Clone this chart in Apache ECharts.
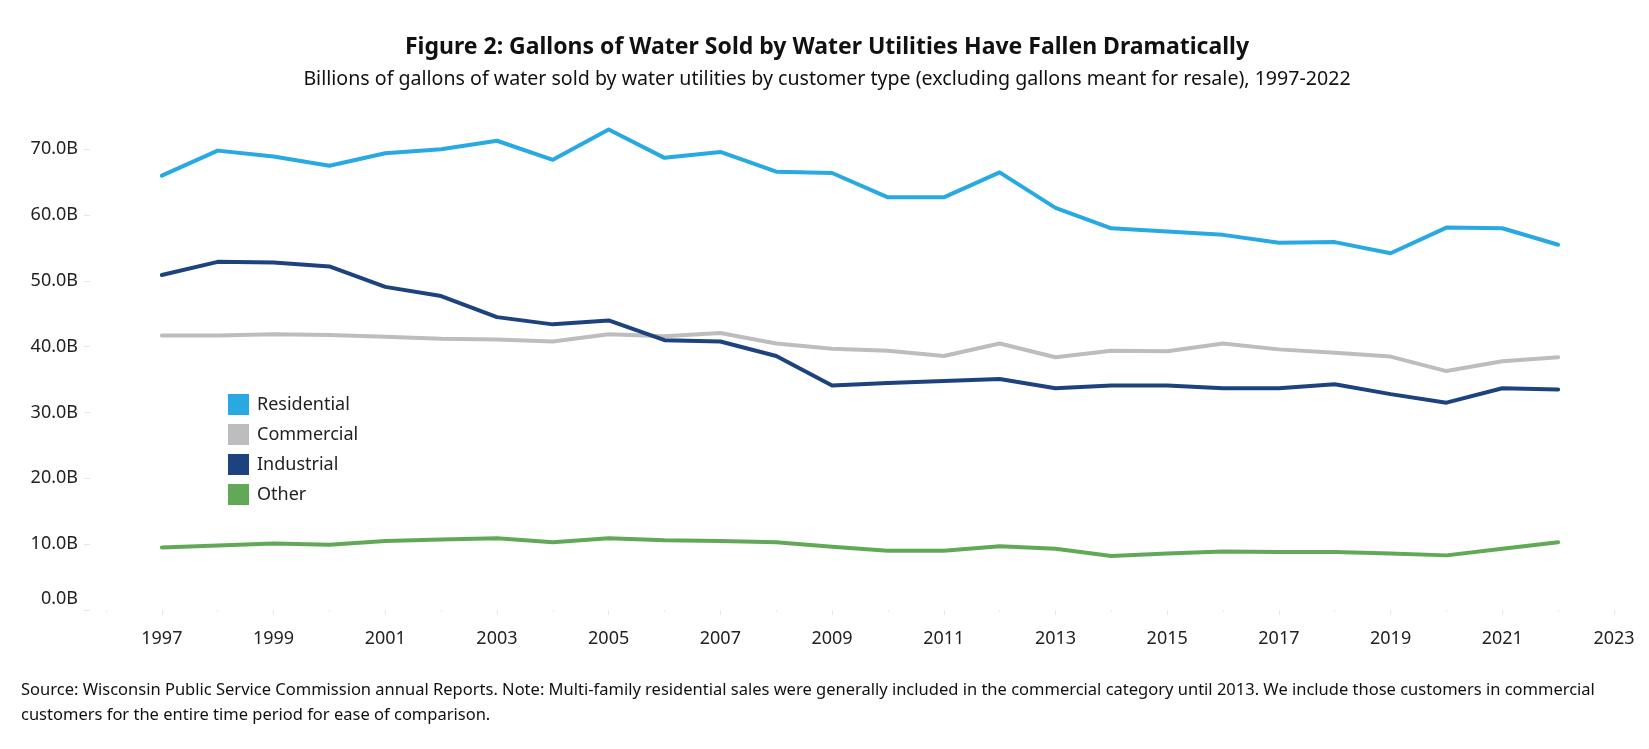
<!DOCTYPE html>
<html>
<head>
<meta charset="utf-8">
<script src="https://cdn.jsdelivr.net/npm/echarts@6/dist/echarts.min.js"></script>
<style>
html,body{margin:0;padding:0;background:#fff;}
#chart{width:1649px;height:749px;}
</style>
</head>
<body>
<div id="chart"></div>
<script>
const years = [1997,1998,1999,2000,2001,2002,2003,2004,2005,2006,2007,2008,2009,2010,2011,2012,2013,2014,2015,2016,2017,2018,2019,2020,2021,2022];
const axisYears = ['1996','1997','1998','1999','2000','2001','2002','2003','2004','2005','2006','2007','2008','2009','2010','2011','2012','2013','2014','2015','2016','2017','2018','2019','2020','2021','2022','2023'];
const residential = [66.0,69.8,68.9,67.5,69.4,70.0,71.3,68.4,73.0,68.7,69.6,66.6,66.4,62.7,62.7,66.5,61.1,58.0,57.5,57.0,55.8,55.9,54.2,58.1,58.0,55.5];
const commercial  = [41.7,41.7,41.9,41.8,41.5,41.2,41.1,40.8,41.9,41.6,42.1,40.5,39.7,39.4,38.6,40.5,38.4,39.4,39.3,40.5,39.6,39.1,38.5,36.3,37.8,38.4];
const industrial  = [50.9,52.9,52.8,52.2,49.1,47.7,44.5,43.4,44.0,41.0,40.8,38.6,34.1,34.5,34.8,35.1,33.7,34.1,34.1,33.7,33.7,34.3,32.8,31.5,33.7,33.5];
const other       = [9.5,9.8,10.1,9.9,10.5,10.7,10.9,10.3,10.9,10.6,10.5,10.3,9.6,9.0,9.0,9.7,9.3,8.2,8.6,8.9,8.8,8.8,8.6,8.3,9.3,10.3];
const yTicks = [0,10,20,30,40,50,60,70];

const titleText = 'Figure 2: Gallons of Water Sold by Water Utilities Have Fallen Dramatically';
const subtitleText = 'Billions of gallons of water sold by water utilities by customer type (excluding gallons meant for resale), 1997-2022';
const sourceText = 'Source: Wisconsin Public Service Commission annual Reports. Note: Multi-family residential sales were generally included in the commercial category until 2013. We include those customers in commercial\ncustomers for the entire time period for ease of comparison.';

const FONT = '"Noto Sans", "Open Sans", sans-serif';
const colors = {Residential:'#29a9e1', Commercial:'#bdbdbf', Industrial:'#1d437e', Other:'#61a957'};

function pairs(arr){ return years.map((y,i)=>[String(y), arr[i]]); }
function mkSeries(name, arr){
  return {
    name, type:'line', data: pairs(arr), showSymbol:false, symbol:'none', clip:false,
    lineStyle:{width:4, color:colors[name], cap:'round', join:'round'},
    itemStyle:{color:colors[name]}, emphasis:{disabled:true}, z: name==='Residential'?5:(name==='Industrial'?4:3)
  };
}

const chart = echarts.init(document.getElementById('chart'), null, {renderer:'canvas'});
chart.setOption({
  animation:false,
  backgroundColor:'#fff',
  textStyle:{fontFamily:FONT},
  grid:{left:106, right:35, top:149.3, bottom:139, containLabel:false},
  legend:{
    orient:'vertical', left:228, top:394, itemWidth:21, itemHeight:21, itemGap:9, padding:0,
    icon:'rect', data:['Residential','Commercial','Industrial','Other'],
    textStyle:{fontSize:18, color:'#222', fontFamily:FONT, padding:[0,0,0,3]},
    selectedMode:false
  },
  xAxis:[{
    type:'category', data:axisYears, boundaryGap:false,
    axisLine:{show:false},
    axisTick:{show:true, length:5, lineStyle:{color:'#e3e3e3', width:1}, interval:(i,v)=>(+v)%2===1},
    axisLabel:{fontSize:18, color:'#222', margin:20, fontFamily:FONT, interval:(i,v)=>(+v)%2===1},
    splitLine:{show:false}
  },{
    type:'category', data:axisYears, boundaryGap:false, position:'bottom',
    axisLine:{show:false},
    axisTick:{show:true, length:2, lineStyle:{color:'#ececec', width:1}, interval:0},
    axisLabel:{show:false}, splitLine:{show:false}
  }],
  yAxis:{
    type:'value', min:yTicks[0], max:yTicks[yTicks.length-1], interval:10, offset:16,
    axisLine:{show:false},
    axisTick:{show:true, length:6, lineStyle:{color:'#e6e6e6', width:1}},
    splitLine:{show:false},
    axisLabel:{fontSize:18, color:'#222', margin:12, fontFamily:FONT,
      formatter:v=> v===0 ? '{z|0.0B}' : v.toFixed(1)+'B',
      rich:{z:{fontSize:18, color:'#222', fontFamily:FONT, padding:[0,0,22,0]}}
    }
  },
  series:[mkSeries('Residential',residential), mkSeries('Commercial',commercial), mkSeries('Industrial',industrial), mkSeries('Other',other)],
  graphic:[
    {type:'text', x:827, y:47, style:{text:titleText, font:'bold 23px '+FONT, fill:'#111', align:'center', verticalAlign:'middle'}},
    {type:'text', x:827, y:79, style:{text:subtitleText, font:'19.6px '+FONT, fill:'#111', align:'center', verticalAlign:'middle'}},
    {type:'text', x:21, y:703, style:{text:sourceText, font:'16.5px '+FONT, fill:'#111', align:'left', verticalAlign:'middle', lineHeight:25}}
  ]
});
</script>
</body>
</html>
